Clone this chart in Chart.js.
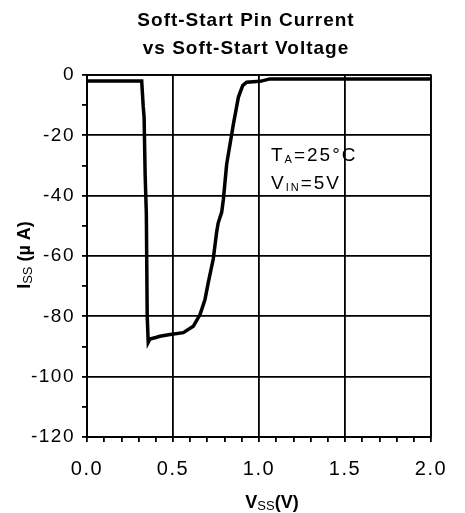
<!DOCTYPE html>
<html>
<head>
<meta charset="utf-8">
<script src="https://cdn.jsdelivr.net/npm/chart.js@4.4.0/dist/chart.umd.min.js"></script>
<style>
  html, body { margin: 0; padding: 0; background: #fff; }
  #wrap { width: 465px; height: 513px; position: relative; }
</style>
</head>
<body>
<div id="wrap"><canvas id="chart" width="465" height="513"></canvas></div>
<script>
// soft-start voltage (V) and pin current (uA)
const vssV = [0.00, 0.318, 0.327, 0.332, 0.338, 0.345, 0.350, 0.356, 0.366, 0.400, 0.424, 0.483, 0.560,
  0.618, 0.657, 0.686, 0.705, 0.734, 0.754, 0.763, 0.783, 0.793, 0.812, 0.851, 0.880, 0.905, 0.928,
  1.006, 1.064, 2.00];
const issUA = [-2.0, -2.0, -10.6, -14, -33, -46, -80, -88.6, -87.5, -87.0, -86.6, -86.0, -85.4,
  -83.3, -79.4, -74.4, -68.8, -61, -52, -49, -45.5, -41.2, -29.6, -16.3, -7.4, -3.5, -2.4,
  -2.1, -1.3, -1.3];

const xTickValues = [0, 0.5, 1.0, 1.5, 2.0];
const yTickValues = [0, -20, -40, -60, -80, -100, -120];

const titleLines = ['Soft-Start Pin Current', 'vs Soft-Start Voltage'];

const FONT = '"Liberation Sans", Arial, sans-serif';

function isMajorX(v) {
  return xTickValues.some(t => Math.abs(t - v) < 1e-6);
}
function isMajorY(v) {
  return yTickValues.some(t => Math.abs(t - v) < 1e-6);
}

// draws a run of [text, font, dy] pieces centred on x
function drawRun(ctx, parts, cx, y) {
  let total = 0;
  parts.forEach(p => { ctx.font = p[1]; total += ctx.measureText(p[0]).width; });
  let x = cx - total / 2;
  parts.forEach(p => {
    ctx.font = p[1];
    ctx.fillText(p[0], x, y + (p[2] || 0));
    x += ctx.measureText(p[0]).width;
  });
}

const textPlugin = {
  id: 'texts',
  beforeDraw(chart) {
    chart.ctx.letterSpacing = '1.5px';
  },
  afterDraw(chart) {
    const ctx = chart.ctx;
    const area = chart.chartArea;
    ctx.save();
    ctx.fillStyle = '#000';
    ctx.textBaseline = 'alphabetic';

    // frame on the right edge
    ctx.strokeStyle = '#000';
    ctx.lineWidth = 1.5;
    ctx.strokeRect(area.left, area.top, area.right - area.left, area.bottom - area.top);

    // title
    ctx.letterSpacing = '1px';
    ctx.textAlign = 'left';
    drawRun(ctx, [[titleLines[0], 'bold 19px ' + FONT]], 246, 26);
    drawRun(ctx, [[titleLines[1], 'bold 19px ' + FONT]], 246, 54);

    // x axis title
    ctx.letterSpacing = '0px';
    drawRun(ctx, [
      ['V', 'bold 18px ' + FONT],
      ['SS', '13px ' + FONT, 2],
      ['(V)', 'bold 18px ' + FONT]
    ], 272, 508);

    // y axis title, rotated
    ctx.save();
    ctx.translate(30, 255);
    ctx.rotate(-Math.PI / 2);
    drawRun(ctx, [
      ['I', 'bold 18px ' + FONT],
      ['SS', '13px ' + FONT, 2],
      [' (\u00b5 A)', 'bold 18px ' + FONT]
    ], 0, 0);
    ctx.restore();

    // test conditions
    ctx.letterSpacing = '2px';
    const drawLeft = (parts, x, y) => {
      parts.forEach(p => {
        ctx.font = p[1];
        ctx.fillText(p[0], x, y + (p[2] || 0));
        x += ctx.measureText(p[0]).width;
      });
    };
    drawLeft([
      ['T', '19px ' + FONT],
      ['A', '11px ' + FONT, 2],
      ['=25\u00b0C', '19px ' + FONT]
    ], 271, 161);
    drawLeft([
      ['V', '19px ' + FONT],
      ['IN', '11px ' + FONT, 2],
      ['=5V', '19px ' + FONT]
    ], 271, 189);

    ctx.restore();
  }
};

new Chart(document.getElementById('chart'), {
  type: 'line',
  data: {
    datasets: [{
      data: vssV.map((v, i) => ({ x: v, y: issUA[i] })),
      borderColor: '#000',
      borderWidth: 3.5,
      pointRadius: 0,
      tension: 0,
      fill: false
    }]
  },
  options: {
    responsive: false,
    animation: false,
    layout: { padding: { left: 0, right: 34, top: 75, bottom: 0 } },
    plugins: {
      legend: { display: false },
      tooltip: { enabled: false },
      title: { display: false }
    },
    scales: {
      x: {
        type: 'linear',
        min: 0,
        max: 2,
        afterFit: s => { s.height = 76; },
        ticks: {
          stepSize: 0.1,
          autoSkip: false,
          maxRotation: 0,
          padding: 15,
          color: '#000',
          font: { family: FONT, size: 20 },
          callback: v => isMajorX(v) ? v.toFixed(1) : ''
        },
        grid: {
          color: c => isMajorX(c.tick.value) ? '#000' : 'rgba(0,0,0,0)',
          tickColor: '#000',
          lineWidth: 1.8,
          tickLength: 5
        },
        border: { display: true, color: '#000', width: 1.8 }
      },
      y: {
        min: -120,
        max: 0,
        afterFit: s => { s.width = 87; },
        ticks: {
          stepSize: 10,
          autoSkip: false,
          padding: 7,
          color: '#000',
          font: { family: FONT, size: 19 },
          callback: v => isMajorY(v) ? String(v) : ''
        },
        grid: {
          color: c => isMajorY(c.tick.value) ? '#000' : 'rgba(0,0,0,0)',
          tickColor: '#000',
          lineWidth: 1.8,
          tickLength: 5
        },
        border: { display: true, color: '#000', width: 1.8 }
      }
    }
  },
  plugins: [textPlugin]
});
</script>
</body>
</html>
